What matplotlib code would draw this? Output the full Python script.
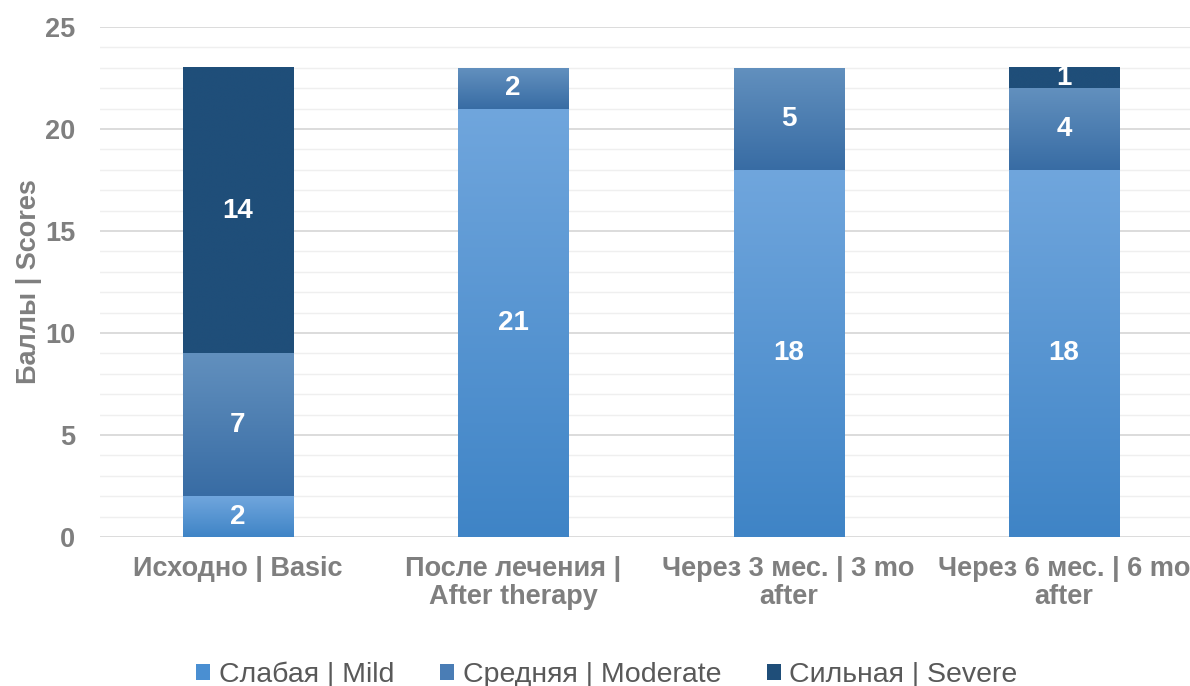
import numpy as np
import matplotlib.pyplot as plt
from matplotlib.colors import LinearSegmentedColormap
from matplotlib.patches import Patch

categories = ["Исходно | Basic", "После лечения |\nAfter therapy",
              "Через 3 мес. | 3 mo\nafter", "Через 6 мес. | 6 mo\nafter"]
mild = [2, 21, 18, 18]
moderate = [7, 2, 5, 4]
severe = [14, 0, 0, 1]
series_names = ["Слабая | Mild", "Средняя | Moderate", "Сильная | Severe"]

plt.rcParams['font.family'] = ['Liberation Sans', 'DejaVu Sans']

# gradient colours (top, bottom) per series
grads = [("#70a6dd", "#3f84c6"), ("#6290be", "#386ca4"), ("#1f4e79", "#1f4e79")]
legend_cols = ["#4a8fd2", "#4a7db5", "#1f4e79"]

fig = plt.figure(figsize=(11.9, 6.86), dpi=100)
ax = fig.add_axes([100 / 1190, 1 - 537 / 686, 1 - 100 / 1190, 510 / 686])

x = np.arange(len(categories))
width = 0.4
bottom = np.zeros(len(categories))
for vals, (ctop, cbot) in zip([mild, moderate, severe], grads):
    vals = np.array(vals, dtype=float)
    bars = ax.bar(x, vals, width, bottom=bottom, color=cbot, zorder=3, linewidth=0)
    cmap = LinearSegmentedColormap.from_list("g", [cbot, ctop])
    grad = np.linspace(0, 1, 256).reshape(-1, 1)
    for b, v in zip(bars, vals):
        if v <= 0:
            continue
        x0, y0 = b.get_x(), b.get_y()
        w, h = b.get_width(), b.get_height()
        ax.imshow(grad, cmap=cmap, origin="lower", aspect="auto",
                  extent=[x0, x0 + w, y0, y0 + h], zorder=3.5, interpolation="bilinear")
        ax.text(x0 + w / 2, y0 + h / 2, f"{int(v)}", ha="center", va="center",
                color="white", fontsize=20, fontweight="bold", zorder=5)
    bottom += vals

ax.set_xlim(-0.5, 3.457)
ax.set_ylim(0, 25)
ax.set_yticks(range(0, 26, 5))
ax.set_yticks(range(0, 26, 1), minor=True)
ax.grid(axis="y", which="major", color="#d9d9d9", linewidth=1.3, zorder=0)
ax.grid(axis="y", which="minor", color="#efefef", linewidth=1.0, zorder=0)
ax.set_axisbelow(True)
for s in ax.spines.values():
    s.set_visible(False)
ax.tick_params(axis="both", which="both", length=0)
ax.tick_params(axis="y", labelsize=19.5, labelcolor="#7f7f7f", pad=18)
ax.set_xticks(x)
ax.set_xticklabels(categories, fontsize=19.5, fontweight="bold", color="#7f7f7f",
                   linespacing=1.1)
ax.tick_params(axis="x", pad=14)
for lbl in ax.get_yticklabels():
    lbl.set_fontweight("bold")
ax.set_ylabel("Баллы | Scores", fontsize=19.5, fontweight="bold", color="#7f7f7f")
ax.yaxis.set_label_coords(-58 / 1090, 0.5)

handles = [Patch(facecolor=c, edgecolor="none") for c in legend_cols]
fig.legend(handles, series_names, loc="lower center", bbox_to_anchor=(0.51, -0.04),
           ncol=3, frameon=False, fontsize=20.5, labelcolor="#595959",
           handlelength=0.5, handleheight=0.5, handletextpad=0.3, columnspacing=1.6)

fig.savefig("out.png", dpi=100)
